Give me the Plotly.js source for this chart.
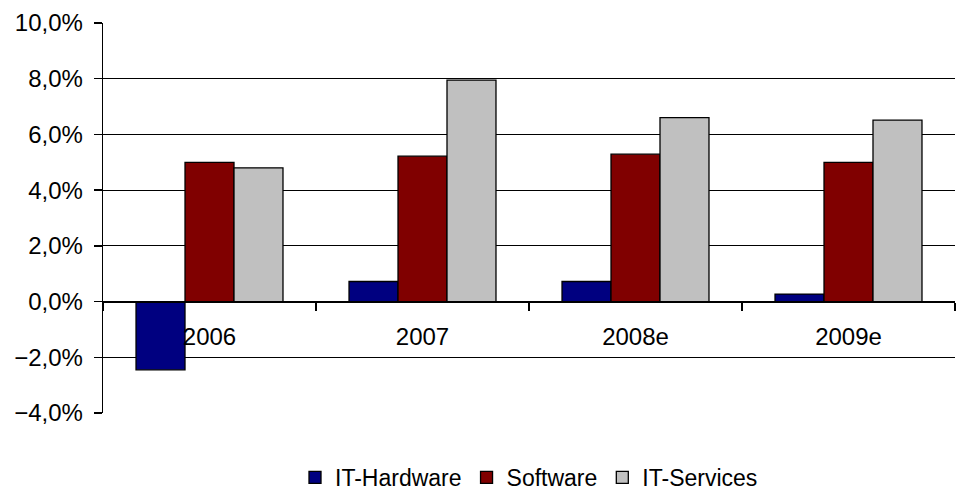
<!DOCTYPE html>
<html>
<head>
<meta charset="utf-8">
<script src="https://cdn.plot.ly/plotly-3.0.1.min.js"></script>
<style>html,body{margin:0;padding:0;background:#fff;}#chart{width:958px;height:490px;}</style>
</head>
<body>
<div id="chart"></div>
<script>
const categories = ["2006", "2007", "2008e", "2009e"];
const hardware = [-2.45, 0.72, 0.72, 0.27];
const software = [5.0, 5.22, 5.29, 5.0];
const services = [4.8, 7.95, 6.6, 6.51];
const seriesNames = ["IT-Hardware", "Software", "IT-Services"];
const colors = ["#000080", "#800000", "#C0C0C0"];

const font = {family: "Liberation Sans, Arial, sans-serif", size: 24, color: "#000"};
const data = [hardware, software, services].map((vals, i) => ({
  type: "bar",
  name: seriesNames[i],
  x: categories,
  y: vals,
  marker: {color: colors[i], line: {color: "#000", width: 1.3}},
  hoverinfo: "skip"
}));

const layout = {
  width: 958, height: 490,
  margin: {l: 103, r: 3, t: 23, b: 77, autoexpand: false},
  paper_bgcolor: "#fff", plot_bgcolor: "#fff",
  separators: ",.",
  font: font,
  barmode: "group",
  bargap: 0.31,
  bargroupgap: 0,
  showlegend: true,
  legend: {orientation: "h", x: 0.5, xanchor: "center", y: -0.11, yanchor: "top",
           font: {family: font.family, size: 23, color: "#000"}, itemwidth: 30, traceorder: "normal"},
  xaxis: {
    type: "category",
    anchor: "free", position: 4/14,
    showline: true, linecolor: "#000", linewidth: 1.3,
    ticks: "outside", ticklen: 8, tickcolor: "#000", tickwidth: 1.3,
    tickson: "boundaries",
    showgrid: false, zeroline: false,
    tickfont: font,
    ticklabelstandoff: 13
  },
  yaxis: {
    range: [-4, 10], dtick: 2, tick0: 0,
    tickformat: ".1f", ticksuffix: "%",
    showline: true, linecolor: "#000", linewidth: 1.3,
    ticks: "outside", ticklen: 8, tickcolor: "#000", tickwidth: 1.3,
    showgrid: true, gridcolor: "#000", gridwidth: 1.2,
    zeroline: false,
    tickfont: font,
    ticklabelstandoff: 6
  }
};

Plotly.newPlot("chart", data, layout, {staticPlot: true, displayModeBar: false});
</script>
</body>
</html>
